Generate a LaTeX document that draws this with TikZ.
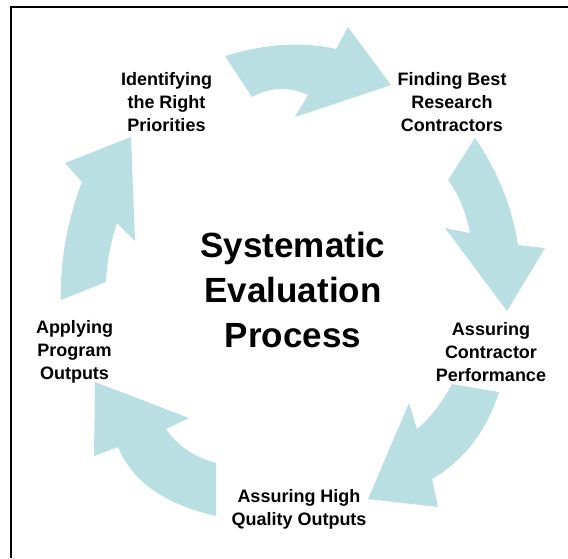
\documentclass[tikz,border=0pt]{standalone}
\usepackage{fontspec}
\setmainfont{Liberation Sans}
\begin{document}
\begin{tikzpicture}[x=1pt,y=-1pt,
  blockarrow/.style={fill=arrowfill,draw=none},
  steplabel/.style={font=\bfseries\fontsize{18}{23}\selectfont,align=center,inner sep=0pt,text=black},
  titlelabel/.style={font=\bfseries\fontsize{35}{45}\selectfont,align=center,inner sep=0pt,text=black}]
\definecolor{arrowfill}{RGB}{186,223,227}
\useasboundingbox (0,0) rectangle (568,558);
% frame (only top and left edges visible)
\draw[line width=2pt] (11,558) -- (11,7) -- (568,7);
% block arrows
\fill[blockarrow] (225,56) .. controls (265.3,43.7) and (302.3,41.3) .. (336,49) -- (348,27) -- (391,85) -- (295,117) -- (308,95) .. controls (289.3,86.3) and (270.7,87) .. (252,97) -- cycle;
\fill[blockarrow] (475,138) -- (448,180) .. controls (458,193) and (465.3,210.7) .. (470,233) -- (445,228) -- (507,311) -- (545,248) -- (518,245) .. controls (512.3,207.3) and (498,171.7) .. (475,138) -- cycle;
\fill[blockarrow] (452,384) -- (499,392) .. controls (486.7,431) and (464.3,460) .. (432,479) -- (438,507) -- (368,499) -- (409,403) -- (417,429) .. controls (430.7,417.3) and (442.3,402.3) .. (452,384) -- cycle;
\fill[blockarrow] (95,382) -- (189,418) -- (166,429) .. controls (177.3,445.7) and (194,457) .. (216,463) -- (216,516) .. controls (164.7,504.3) and (132,481.3) .. (118,447) -- (94,456) -- cycle;
\fill[blockarrow] (131,137) -- (65,163) -- (82,182) .. controls (67,221.3) and (60,260.7) .. (61,300) -- (106,282) .. controls (107,261.7) and (110.7,242) .. (117,223) -- (135,241) -- cycle;
% labels
\node[titlelabel] (center) at (293,290) {Systematic\\Evaluation\\Process};
\node[steplabel] (prio) at (166.5,102) {Identifying\\the Right\\Priorities};
\node[steplabel] (find) at (452,102) {Finding Best\\Research\\Contractors};
\node[steplabel] (perf) at (491,352) {Assuring\\Contractor\\Performance};
\node[steplabel] (qual) at (299,509) {Assuring High\\Quality Outputs};
\node[steplabel] (apply) at (74.5,352) {Applying\\Program\\Outputs};
\end{tikzpicture}
\end{document}
